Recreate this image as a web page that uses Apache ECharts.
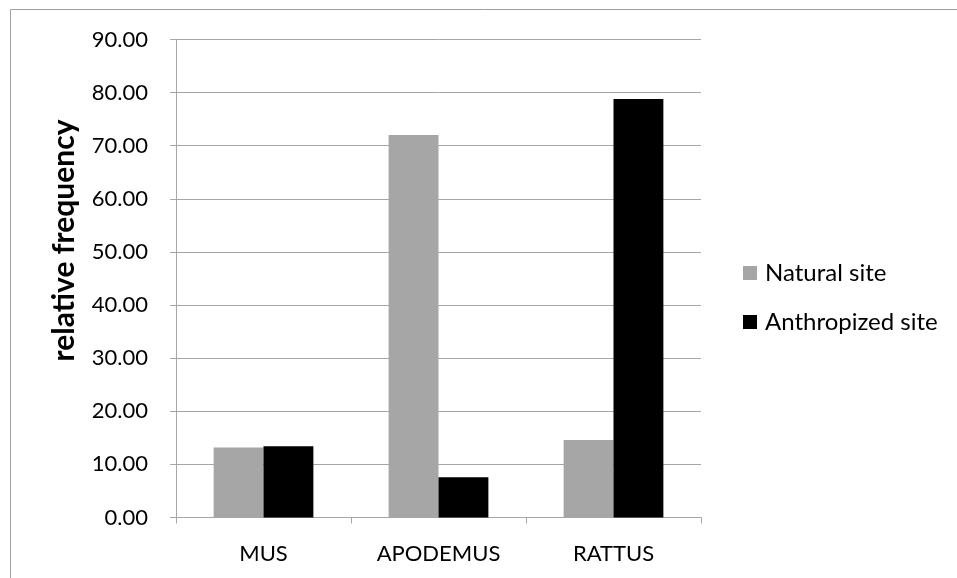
<!DOCTYPE html>
<html>
<head>
<meta charset="utf-8">
<script src="https://cdn.jsdelivr.net/npm/echarts@6/dist/echarts.min.js"></script>
<style>
  html, body { margin: 0; padding: 0; background: #fff; }
  #chart { width: 957px; height: 578px; }
</style>
</head>
<body>
<div id="chart"></div>
<script>
// categories and values
var categories = ['MUS', 'APODEMUS', 'RATTUS'];
var naturalSite = [13.2, 72.0, 14.6];
var anthropizedSite = [13.4, 7.6, 78.8];
var seriesNames = ['Natural site', 'Anthropized site'];

var FONT = 'Lato';
var GRID = '#a6a6a6';

var myEcharts = echarts.init(document.getElementById('chart'));

myEcharts.setOption({
  backgroundColor: '#fff',
  animation: false,
  textStyle: { fontFamily: FONT, color: '#000' },
  graphic: [{
    type: 'rect',
    shape: { x: 10.5, y: 9.5, width: 960, height: 600 },
    style: { fill: 'none', stroke: '#a0a0a0', lineWidth: 1 },
    silent: true
  }],
  legend: {
    orient: 'vertical',
    left: 738,
    top: 253.5,
    icon: 'rect',
    itemWidth: 14,
    itemHeight: 14,
    itemGap: 20,
    textStyle: { fontFamily: FONT, fontSize: 24, color: '#000', lineHeight: 29, padding: [0, 0, 0, 3] },
    data: seriesNames
  },
  grid: { left: 176, right: 256, top: 39.5, bottom: 60.5 },
  xAxis: {
    type: 'category',
    data: categories,
    axisLine: { lineStyle: { color: GRID, width: 1 } },
    axisTick: { show: true, length: 6, lineStyle: { color: GRID } },
    axisLabel: { fontFamily: FONT, fontSize: 22, color: '#000', margin: 25 },
    splitLine: { show: false }
  },
  yAxis: {
    type: 'value',
    min: 0,
    max: 90,
    interval: 10,
    name: 'relative frequency',
    nameLocation: 'middle',
    nameGap: 97,
    nameTextStyle: {
      fontFamily: FONT, fontSize: 30, fontWeight: 'bold', color: '#000',
      padding: [0, 0, 0, 76]
    },
    axisLine: { show: true, lineStyle: { color: GRID, width: 1 } },
    axisTick: { show: true, length: 6, lineStyle: { color: GRID } },
    axisLabel: {
      fontFamily: FONT, fontSize: 22, color: '#000', margin: 28,
      formatter: function (v) { return v.toFixed(2); }
    },
    splitLine: { show: true, lineStyle: { color: GRID, width: 1 } }
  },
  series: [{
    name: seriesNames[0],
    type: 'bar',
    data: naturalSite,
    barGap: '0%',
    barCategoryGap: '43%',
    itemStyle: { color: '#a6a6a6' }
  }, {
    name: seriesNames[1],
    type: 'bar',
    data: anthropizedSite,
    barGap: '0%',
    barCategoryGap: '43%',
    itemStyle: { color: '#000' }
  }]
});
</script>
</body>
</html>
